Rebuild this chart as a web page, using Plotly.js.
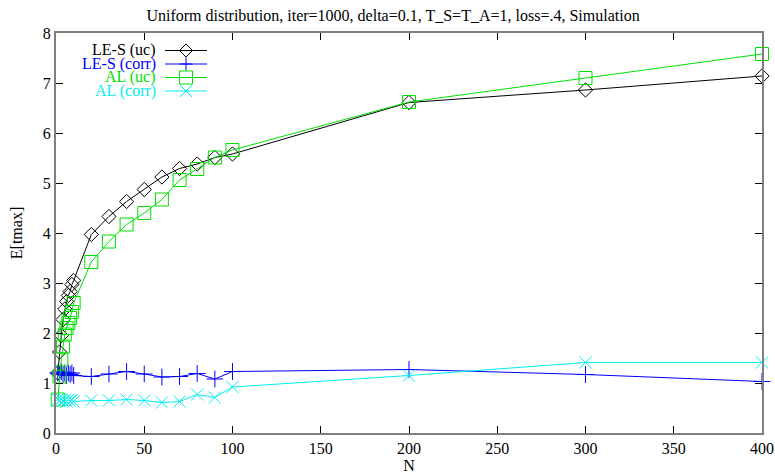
<!DOCTYPE html>
<html>
<head>
<meta charset="utf-8">
<script src="https://cdn.plot.ly/plotly-3.0.1.min.js"></script>
<style>html,body{margin:0;padding:0;background:#fff;}#chart{width:775px;height:475px;}</style>
</head>
<body>
<div id="chart"></div>
<script>
// ---- data ----
const N = [1,2,3,4,5,6,7,8,9,10,20,30,40,50,60,70,80,90,100,200,300,400];
const lesUc   = [1.20,1.62,1.95,2.27,2.48,2.63,2.75,2.83,2.97,3.05,3.97,4.33,4.63,4.87,5.12,5.29,5.38,5.51,5.58,6.61,6.86,7.14];
const lesCorr = [1.20,1.18,1.22,1.17,1.20,1.15,1.20,1.17,1.20,1.15,1.13,1.18,1.23,1.18,1.12,1.13,1.19,1.08,1.23,1.27,1.17,1.03];
const alUc    = [0.67,1.13,1.47,1.73,1.97,2.10,2.20,2.30,2.42,2.60,3.42,3.83,4.17,4.40,4.67,5.06,5.28,5.51,5.66,6.62,7.10,7.58];
const alCorr  = [0.67,0.65,0.68,0.64,0.66,0.63,0.67,0.64,0.66,0.63,0.65,0.65,0.67,0.65,0.61,0.63,0.77,0.71,0.92,1.15,1.41,1.41];
const seriesNames = ['LE-S (uc)','LE-S (corr)','AL (uc)','AL (corr)'];
const titleText = 'Uniform distribution, iter=1000, delta=0.1, T_S=T_A=1, loss=.4, Simulation';
const xTitle = 'N';
const yTitle = 'E[tmax]';

// ---- styles ----
const colors = ['#000000','#0000ff','#00e000','#00f0f0'];
const symbols = ['diamond-open','cross-thin-open','square-open','x-thin-open'];
const sizes = [11,12,13,12];
const FONT = 'Liberation Serif, Times New Roman, serif';

const ys = [lesUc, lesCorr, alUc, alCorr];
const traces = ys.map((y,i)=>({
  x: N, y: y, type:'scatter', mode:'lines+markers', name: seriesNames[i],
  line:{color:colors[i], width:1},
  marker:{symbol:symbols[i], size:sizes[i], color:colors[i], line:{color:colors[i], width:1}},
  cliponaxis:false, showlegend:false
}));

// ---- custom gnuplot-style legend (text right-aligned, sample to the right) ----
const L = 56, T = 33, W = 706, H = 400;
const px = v => (v - L) / W;
const py = v => (T + H - v) / H;
const rowY = [50.5, 64, 77.5, 91];
const textRight = 157, lineX0 = 165, lineX1 = 207, markX = 186;
const annotations = [];
const shapes = [];
seriesNames.forEach((nm,i)=>{
  annotations.push({xref:'paper', yref:'paper', x:px(textRight), y:py(rowY[i]), xanchor:'right', yanchor:'middle',
    text:nm, showarrow:false, borderpad:0, font:{family:FONT, size:16, color:colors[i]}});
  shapes.push({type:'line', xref:'paper', yref:'paper', x0:px(lineX0), x1:px(lineX1), y0:py(rowY[i]), y1:py(rowY[i]),
    line:{color:colors[i], width:1}});
  const base = {xref:'paper', yref:'paper', xsizemode:'pixel', ysizemode:'pixel', xanchor:px(markX), yanchor:py(rowY[i]),
    line:{color:colors[i], width:1}, fillcolor:'rgba(0,0,0,0)'};
  let path;
  if (i===0) path = 'M -6.5 0 L 0 6.5 L 6.5 0 L 0 -6.5 Z';
  else if (i===1) path = 'M -6.5 0 L 6.5 0 M 0 -6.5 L 0 6.5';
  else if (i===2) path = 'M -6.5 -6.5 L 6.5 -6.5 L 6.5 6.5 L -6.5 6.5 Z';
  else path = 'M -6 -6 L 6 6 M -6 6 L 6 -6';
  shapes.push(Object.assign({type:'path', path:path}, base));
});

const axisCommon = {
  showgrid:false, zeroline:false, showline:true, linecolor:'#7f7f7f', linewidth:2,
  mirror:'ticks', ticks:'inside', ticklen:7, tickwidth:1, tickcolor:'#000',
  tickfont:{family:FONT, size:16, color:'#000'}
};

const layout = {
  width:775, height:475,
  margin:{l:L, r:775-L-W, t:T, b:475-T-H, pad:0},
  paper_bgcolor:'#fff', plot_bgcolor:'#fff',
  font:{family:FONT, color:'#000'},
  title:{text:titleText, font:{family:FONT, size:16, color:'#000'}, xref:'paper', x:(393-L)/W, xanchor:'center', y:1-15/475, yanchor:'middle', yref:'container'},
  xaxis:Object.assign({}, axisCommon, {range:[0,400], dtick:50, tick0:0,
    title:{text:xTitle, font:{family:FONT, size:16, color:'#000'}, standoff:2}}),
  yaxis:Object.assign({}, axisCommon, {range:[0,8], dtick:1, tick0:0,
    title:{text:yTitle, font:{family:FONT, size:16, color:'#000'}, standoff:16}}),
  annotations:annotations, shapes:shapes, showlegend:false
};

Plotly.newPlot('chart', traces, layout, {displayModeBar:false, staticPlot:true});
</script>
</body>
</html>
